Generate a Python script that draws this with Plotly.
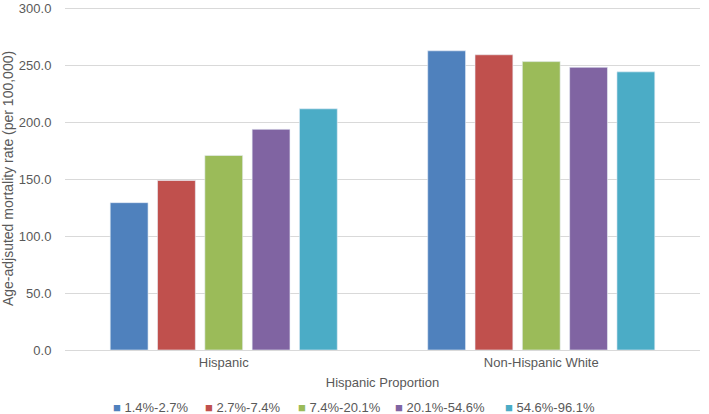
import plotly.graph_objects as go

categories = ["Hispanic", "Non-Hispanic White"]
series_names = ["1.4%-2.7%", "2.7%-7.4%", "7.4%-20.1%", "20.1%-54.6%", "54.6%-96.1%"]
hispanic_vals = [129.5, 149.0, 171.0, 194.0, 212.0]
nhw_vals = [263.0, 259.5, 253.5, 248.5, 244.5]
y_ticks = [0, 50, 100, 150, 200, 250, 300]

COLORS = ["#4F81BD", "#C0504D", "#9BBB59", "#8064A2", "#4BACC6"]
# legend entry left edges (px) - legend drawn as a text row like the original
LEGEND_X = [111, 203, 296, 393, 503]

W, H = 709, 414
L, R, T, B = 65, 9, 7, 64
pw, ph = W - L - R, H - T - B

fig = go.Figure()
for i, name in enumerate(series_names):
    fig.add_trace(go.Bar(
        x=categories,
        y=[hispanic_vals[i], nhw_vals[i]],
        name=name,
        marker=dict(color=COLORS[i], line=dict(color="#E8EEF6", width=0.6)),
        showlegend=False,
    ))

for i, name in enumerate(series_names):
    fig.add_annotation(
        x=(LEGEND_X[i] - L) / pw, y=-(407 - (T + ph)) / ph,
        xref="paper", yref="paper",
        xanchor="left", yanchor="middle", showarrow=False,
        text=f"<span style='color:{COLORS[i]}'>■</span> {name}",
        font=dict(size=13, color="#595959"),
    )

fig.update_layout(
    width=W, height=H,
    barmode="group",
    bargap=0.255,
    bargroupgap=0.2,
    plot_bgcolor="white",
    paper_bgcolor="white",
    font=dict(family="Liberation Sans, Arial", size=13, color="#595959"),
    margin=dict(l=L, r=R, t=T, b=B),
    xaxis=dict(
        title=dict(text="Hispanic Proportion", standoff=9, font=dict(size=13)),
        showline=True, linecolor="#D9D9D9", ticks="", tickfont=dict(size=13),
        showgrid=False, automargin=False,
    ),
    yaxis=dict(
        title=dict(text="Age-adjsuted mortality rate (per 100,000)", standoff=2, font=dict(size=14)),
        range=[0, 301.5], tickvals=y_ticks, tickformat=".1f",
        gridcolor="#D9D9D9", zeroline=False, showline=False, tickfont=dict(size=13),
        ticks="outside", ticklen=10, tickcolor="rgba(0,0,0,0)", automargin=False,
    ),
    showlegend=False,
)

fig.write_html("out.html", config={"displayModeBar": False},
               post_script="document.body.style.margin='0';")
